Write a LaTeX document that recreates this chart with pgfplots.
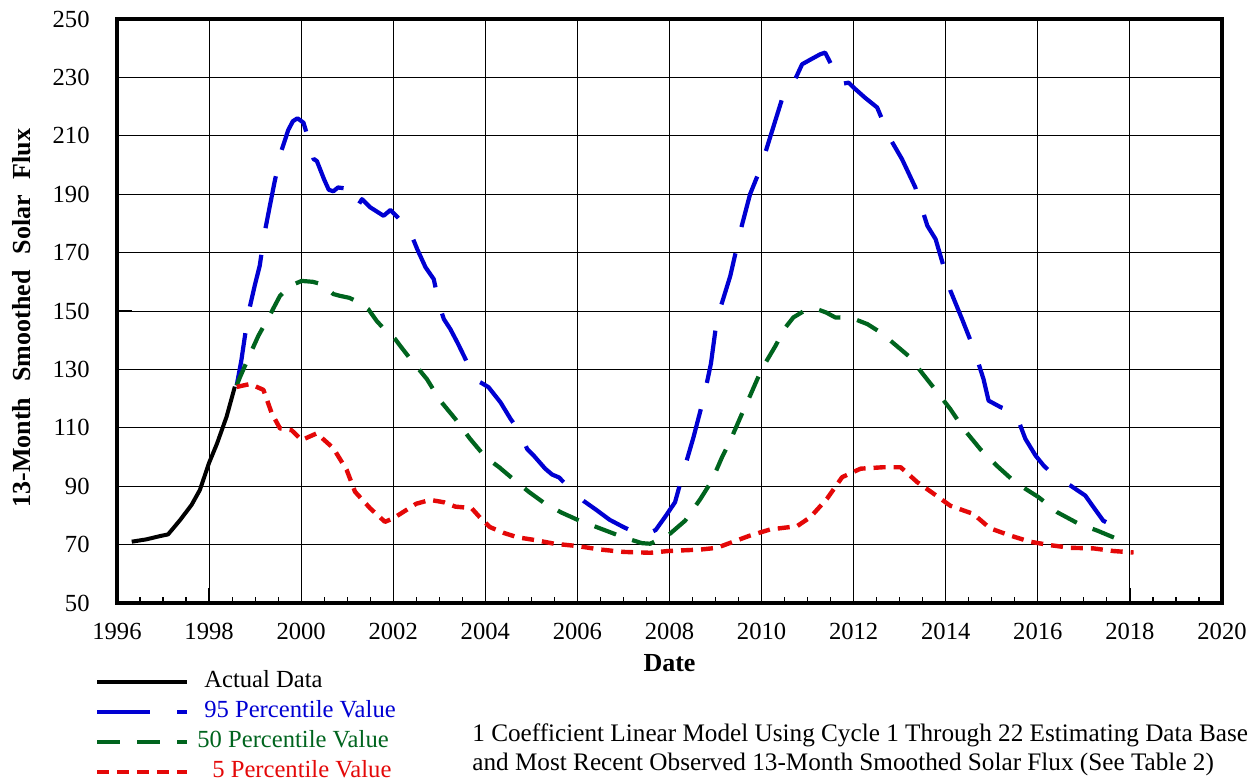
\documentclass[border=0pt]{standalone}
\usepackage{fontspec}
\setmainfont{Liberation Serif}
\usepackage{pgfplots}
\pgfplotsset{compat=1.18}
\definecolor{cblue}{RGB}{0,0,210}
\definecolor{cgreen}{RGB}{0,100,30}
\definecolor{cred}{RGB}{228,8,8}
\begin{document}
\begin{tikzpicture}
\useasboundingbox (0,0) rectangle (630pt,391.5pt);
\begin{axis}[
  at={(58.5pt,90pt)}, anchor=south west,
  scale only axis, width=552.5pt, height=292pt,
  xmin=1996, xmax=2020, ymin=50, ymax=250,
  xtick={1996,1998,...,2020},
  xticklabels={1996,1998,2000,2002,2004,2006,2008,2010,2012,2014,2016,2018,2020},
  ytick={50,70,...,250},
  yticklabels={50,70,90,110,130,150,170,190,210,230,250},
  minor x tick num=3,
  xtick pos=bottom, ytick pos=left,
  tick align=inside,
  major tick length=7.5pt, minor tick length=2.8pt,
  every tick/.style={black, line width=0.6pt},
  grid=major,
  major grid style={black, line width=0.5pt},
  axis line style={line width=2.4pt},
  xticklabel style={font=\fontsize{12.3}{14}\selectfont, inner sep=0pt, yshift=-10pt},
  yticklabel style={font=\fontsize{12.3}{14}\selectfont, inner sep=0pt, xshift=-13.5pt},
  xlabel={\bfseries Date},
  xlabel style={font=\fontsize{13}{15}\selectfont, at={(axis description cs:0.5,-0.1027)}, anchor=center},
  ylabel={\bfseries 13-Month\hspace{8pt}Smoothed\hspace{8pt}Solar\hspace{8pt}Flux},
  ylabel style={font=\fontsize{13}{15}\selectfont, at={(axis description cs:-0.086,0.488)}, anchor=center},
  legend style={at={(axis description cs:-0.0199,-0.1147)}, anchor=north west, draw=none, fill=none,
    inner sep=0pt, outer sep=0pt, font=\fontsize{12.3}{14}\selectfont, row sep=3pt,
    nodes={inner sep=0pt, text height=9pt, text depth=3pt},
    /tikz/every odd column/.append style={column sep=7.5pt}},
  legend cell align=left,
  legend image code/.code={\draw[#1] (0pt,0pt) -- (45pt,0pt);},
]
\addplot[black, line width=2pt, line join=round] coordinates {
(1996.32,71.0) (1996.64,71.8) (1996.93,72.9) (1997.11,73.5) (1997.37,78.4) (1997.62,83.6)
(1997.80,88.7) (1998.00,98.0) (1998.17,104.5) (1998.38,113.8) (1998.56,124.1)};
\addlegendentry{Actual Data}
\addplot[cblue, line width=2.1pt, dash pattern=on 26.5pt off 13.5pt, line join=round] coordinates {
(1998.60,124.5) (1998.70,133) (1998.85,149) (1998.99,158.6) (1999.10,165.5) (1999.20,176.3)
(1999.32,186) (1999.42,194) (1999.57,204.8) (1999.72,212) (1999.82,215) (1999.92,216)
(2000.05,214.5) (2000.16,208.8) (2000.27,202) (2000.34,201.4) (2000.50,195) (2000.60,191.5)
(2000.70,191) (2000.80,192.3) (2000.95,192) (2001.05,189.5) (2001.15,186) (2001.25,186.5)
(2001.32,188.3) (2001.50,185.5) (2001.79,182.6) (2001.94,184.6) (2002.10,182) (2002.19,180.3)
(2002.33,178.6) (2002.52,171.2) (2002.70,165) (2002.88,160.9) (2003.00,152) (2003.10,147.2)
(2003.24,143.8) (2003.40,139) (2003.57,133.5) (2003.75,126.7) (2003.90,125.5) (2004.07,123.9)
(2004.33,118.7) (2004.55,113) (2004.73,109) (2004.91,102.7) (2005.05,100.5) (2005.30,96)
(2005.45,94) (2005.60,93) (2005.85,89) (2006.13,85) (2006.40,82) (2006.70,78.5)
(2007.00,76) (2007.25,74.2) (2007.50,73.5) (2007.70,75) (2007.90,79.4) (2008.12,84.5)
(2008.34,97) (2008.52,106.7) (2008.74,120) (2008.90,132) (2009.03,147.2) (2009.32,162)
(2009.57,179.2) (2009.75,190) (2009.97,198.6) (2010.15,207.7) (2010.33,216.8) (2010.51,225.9)
(2010.73,229.4) (2010.88,234.5) (2011.05,236) (2011.27,237.9) (2011.38,238.5) (2011.53,233.9)
(2011.71,227.7) (2011.89,228.2) (2012.00,226.5) (2012.25,223) (2012.51,219.7) (2012.80,208.8)
(2013.05,202) (2013.34,192.3) (2013.60,179.2) (2013.78,174.6) (2013.96,164.9) (2014.10,157)
(2014.36,147) (2014.61,137) (2014.82,126.7) (2014.93,119.3) (2015.20,117) (2015.51,115.3)
(2015.73,106.2) (2015.95,100.5) (2016.13,97) (2016.40,93) (2016.71,90.2) (2017.03,86.8)
(2017.21,82.8) (2017.42,78.2) (2017.60,76.8) (2017.71,76.7)};
\addlegendentry{\textcolor{cblue}{95 Percentile Value}}
\addplot[cgreen, line width=2.1pt, dash pattern=on 11.5pt off 8.5pt, line join=round] coordinates {
(1998.60,124.5) (1998.67,127.3) (1998.89,135.2) (1999.07,141.5) (1999.33,148.9) (1999.54,155.2)
(1999.76,158.6) (2000.01,160.3) (2000.25,160) (2000.44,159.2) (2000.70,155.8) (2000.84,155.2)
(2001.05,154.5) (2001.28,152.7) (2001.46,150.6) (2001.64,146.6) (2001.85,143) (2002.04,140.4)
(2002.15,138.1) (2002.40,133) (2002.73,126.7) (2003.02,119.3) (2003.35,113) (2003.67,106.2)
(2004.00,100) (2004.30,96.5) (2004.60,92.5) (2004.95,88) (2005.30,84) (2005.65,81)
(2006.00,78.5) (2006.50,75.5) (2007.00,72.5) (2007.40,70.5) (2007.58,70.3) (2007.98,73.3)
(2008.34,78.2) (2008.67,85.6) (2008.92,91.9) (2009.14,99.9) (2009.32,105.6) (2009.54,113.6)
(2009.72,119.9) (2010.00,130) (2010.30,138) (2010.50,144) (2010.69,147.8) (2010.90,149.8)
(2011.16,150.9) (2011.40,149.5) (2011.60,147.8) (2011.96,147.6) (2012.30,145.5) (2012.60,142.5)
(2012.90,138.5) (2013.20,134.5) (2013.50,128.5) (2013.80,122.5) (2014.10,116.4) (2014.39,109.6)
(2014.75,102.7) (2015.11,97) (2015.51,91.3) (2016.02,86.2) (2016.42,81.1) (2016.89,77.1)
(2017.29,74.8) (2017.76,71.7)};
\addlegendentry{\hspace{-3.5pt}\textcolor{cgreen}{50 Percentile Value}}
\addplot[cred, line width=2.2pt, dash pattern=on 6pt off 4pt, line join=round] coordinates {
(1998.60,124) (1998.89,125) (1999.18,123) (1999.36,115) (1999.54,109.8) (1999.79,109.2)
(2000.01,105.8) (2000.34,108.1) (2000.70,103) (2000.99,95.5) (2001.17,88.1) (2001.50,82.4)
(2001.82,77.8) (2002.00,79) (2002.25,81.5) (2002.50,84) (2002.80,85.3) (2003.10,84.5)
(2003.35,83) (2003.70,82.5) (2003.90,79) (2004.10,76) (2004.40,74) (2004.70,72.5)
(2005.10,71.5) (2005.50,70.3) (2006.00,69.5) (2006.50,68.3) (2007.00,67.5) (2007.58,67.2)
(2007.97,67.8) (2008.67,68.3) (2009.03,68.9) (2009.32,70.6) (2009.75,73.1) (2010.19,75.2)
(2010.77,76.3) (2011.06,79.4) (2011.42,85.7) (2011.75,93.1) (2012.15,96) (2012.65,96.5)
(2013.02,96.5) (2013.38,91.4) (2013.74,87.4) (2014.10,83.3) (2014.60,80.5) (2014.96,75.6)
(2015.40,73.1) (2015.83,71) (2016.27,69.8) (2016.71,68.9) (2017.21,68.7) (2017.64,67.8)
(2018.08,67.3)};
\addlegendentry{\hspace{4pt}\textcolor{cred}{5 Percentile Value}}
\end{axis}
\node[anchor=base west, inner sep=0pt, font=\fontsize{12.6}{14}\selectfont] at (236pt,21pt)
  {1 Coefficient Linear Model Using Cycle 1 Through 22 Estimating Data Base};
\node[anchor=base west, inner sep=0pt, font=\fontsize{12.6}{14}\selectfont] at (236pt,6pt)
  {and Most Recent Observed 13-Month Smoothed Solar Flux (See Table 2)};
\end{tikzpicture}
\end{document}
